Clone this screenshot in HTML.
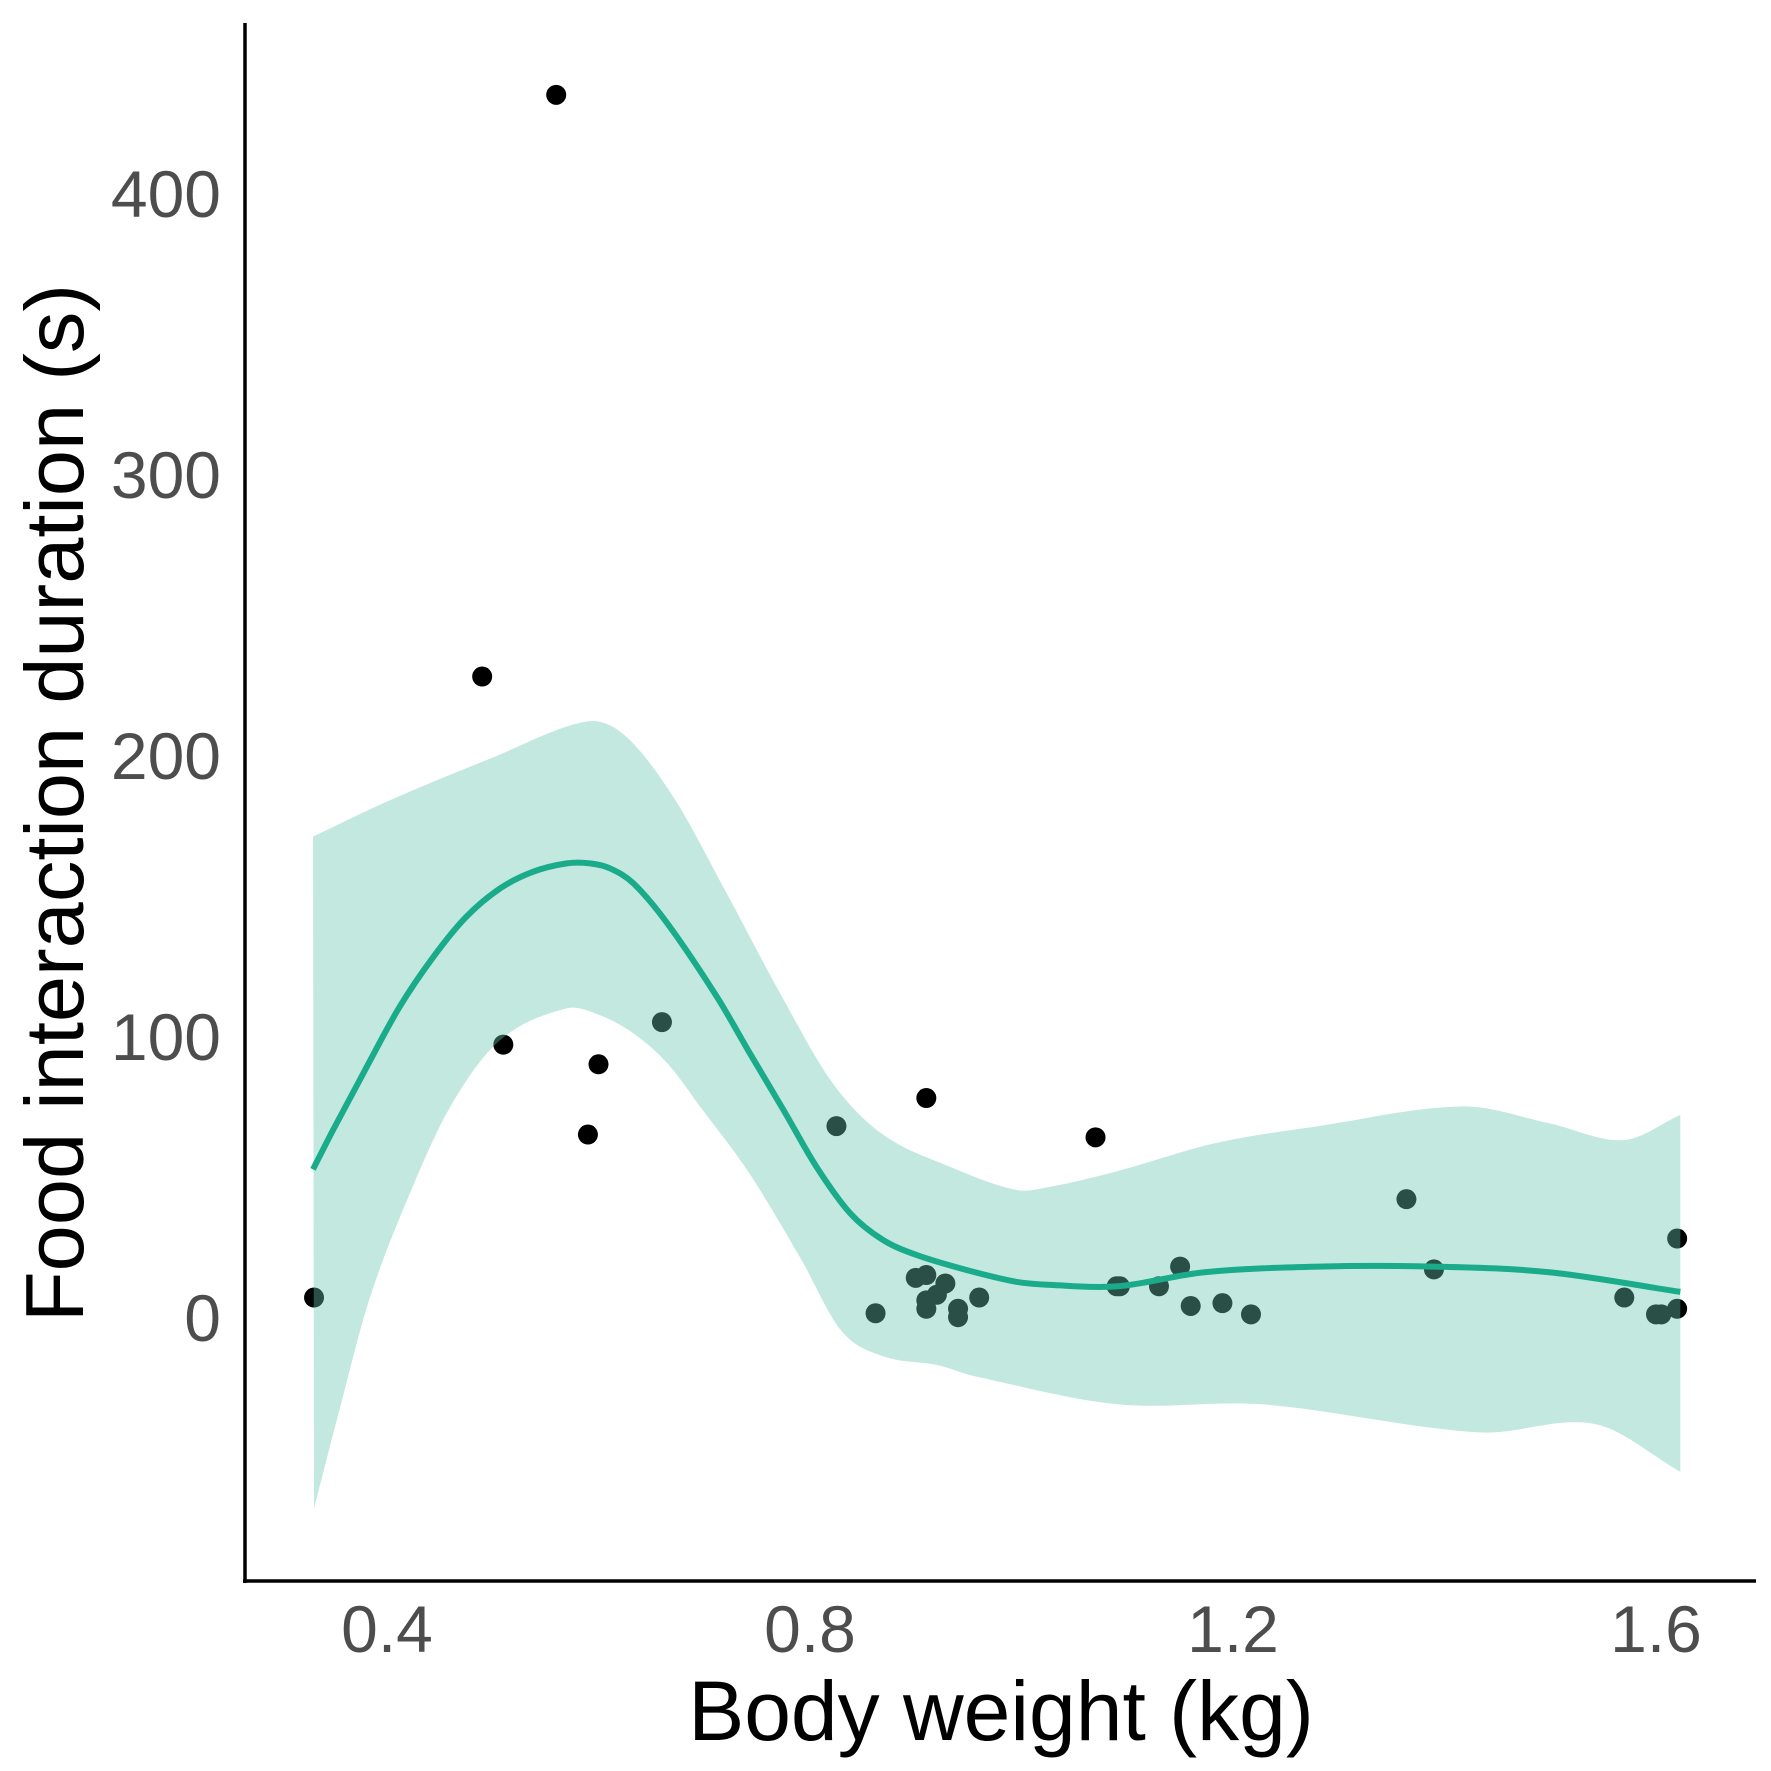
<!DOCTYPE html>
<html><head><meta charset="utf-8"><style>body{margin:0;background:#fff}svg{display:block}</style></head>
<body>
<svg id="chart" width="1771" height="1771" viewBox="0 0 1771 1771" xmlns="http://www.w3.org/2000/svg" font-family="'Liberation Sans', Arial, sans-serif">
<g id="points"></g>
<path id="ribbon" fill="#69c5b1" fill-opacity="0.4" stroke="none"/>
<path id="fit" fill="none" stroke="#1aab8a" stroke-width="6"/>
<line x1="245" y1="23" x2="245" y2="1583" stroke="#000" stroke-width="3.5"/>
<line x1="243" y1="1581" x2="1756" y2="1581" stroke="#000" stroke-width="3.5"/>
<g id="yticks"></g>
<g id="xticks"></g>
<text x="1001" y="1740" text-anchor="middle" font-size="84" fill="#000">Body weight (kg)</text>
<text transform="translate(83,803) rotate(-90)" text-anchor="middle" font-size="83" fill="#000">Food interaction duration (s)</text>
</svg>
<script>
const ptX=[0.331,0.56,0.49,0.51,0.60,0.59,0.66,0.825,0.91,1.07,0.862,0.90,0.91,0.91,0.91,0.92,0.928,0.94,0.94,0.96,1.09,1.093,1.13,1.15,1.16,1.19,1.217,1.364,1.39,1.57,1.60,1.605,1.62,1.62];
const ptY=[8,436,229,98,91,66,106,69,79,65,2.4,15,16,7,4,9,13,4,1,8,12,12,12,19,5,6,2,43,18,8,2,2,29,4];
const fitX=[0.330,0.349,0.381,0.412,0.444,0.475,0.507,0.538,0.570,0.592,0.611,0.633,0.665,0.712,0.743,0.775,0.806,0.838,0.869,0.901,0.948,0.995,1.027,1.091,1.173,1.281,1.39,1.499,1.623];
const fitY=[53.6,67.6,90.2,111.5,129.3,143.5,153.6,159.5,162.5,162.5,160.7,155.4,141.2,115,95,74.7,54.6,38,28.5,23.1,17.8,13.6,12.5,12,17,19,19,17,10];
const upX=[0.330,0.403,0.499,0.589,0.625,0.671,0.721,0.775,0.822,0.869,0.932,0.995,1.027,1.091,1.184,1.281,1.417,1.499,1.569,1.623];
const upY=[172,185,200,213,208,186,152,114,84,66,54.6,46.3,47.4,53,63,69,76,70,64,73];
const loX=[0.331,0.355,0.383,0.419,0.46,0.507,0.570,0.601,0.633,0.665,0.696,0.743,0.791,0.83,0.87,0.92,0.956,1.091,1.227,1.433,1.542,1.623];
const loY=[-67,-32,7,42.7,76,99.6,110.9,108.5,102,91.4,76,52,22,-4,-13,-16,-20,-30,-30,-40,-37,-54];
const yTicks=[0,100,200,300,400];
const xTicks=[0.4,0.8,1.2,1.6];
const NS='http://www.w3.org/2000/svg';
function sx(v){return 387+(v-0.4)/0.4*423;}
function sy(v){return 1320-v*2.81;}
const pg=document.getElementById('points');
for(let i=0;i<ptX.length;i++){
 const c=document.createElementNS(NS,'circle');
 c.setAttribute('cx',sx(ptX[i]));c.setAttribute('cy',sy(ptY[i]));c.setAttribute('r',10);c.setAttribute('fill','#000');
 
 
 pg.appendChild(c);
}
function pts(xs,ys){return xs.map((x,i)=>[sx(x),sy(ys[i])]);}
function smooth(p){const n=p.length,m=[];
 for(let i=0;i<n;i++){const a=p[Math.max(0,i-1)],b=p[Math.min(n-1,i+1)];m.push((b[1]-a[1])/(b[0]-a[0]));}
 let d='M'+p[0][0]+','+p[0][1];
 for(let i=0;i<n-1;i++){const h=p[i+1][0]-p[i][0];
  d+=' C'+(p[i][0]+h/3)+','+(p[i][1]+m[i]*h/3)+' '+(p[i+1][0]-h/3)+','+(p[i+1][1]-m[i+1]*h/3)+' '+p[i+1][0]+','+p[i+1][1];}
 return d;}
document.getElementById('fit').setAttribute('d',smooth(pts(fitX,fitY)));
const up=smooth(pts(upX,upY));
const lo=pts(loX,loY);
const loPath=smooth(lo);
// reverse lower path by building from reversed points with mirrored x order
function smoothRev(p){const n=p.length,m=[];
 for(let i=0;i<n;i++){const a=p[Math.max(0,i-1)],b=p[Math.min(n-1,i+1)];m.push((b[1]-a[1])/(b[0]-a[0]));}
 let d='';
 for(let i=n-1;i>0;i--){const h=p[i][0]-p[i-1][0];
  d+=' C'+(p[i][0]-h/3)+','+(p[i][1]-m[i]*h/3)+' '+(p[i-1][0]+h/3)+','+(p[i-1][1]+m[i-1]*h/3)+' '+p[i-1][0]+','+p[i-1][1];}
 return d;}
document.getElementById('ribbon').setAttribute('d',up+' L'+lo[lo.length-1][0]+','+lo[lo.length-1][1]+smoothRev(lo)+' Z');
const yt=document.getElementById('yticks');
yTicks.forEach(v=>{const t=document.createElementNS(NS,'text');
 t.setAttribute('x',221);t.setAttribute('y',sy(v)+21);t.setAttribute('text-anchor','end');t.setAttribute('font-size','66');t.setAttribute('fill','#4d4d4d');t.textContent=v;
 
 
 yt.appendChild(t);});
const xt=document.getElementById('xticks');
xTicks.forEach(v=>{const t=document.createElementNS(NS,'text');
 t.setAttribute('x',sx(v));t.setAttribute('y',1652);t.setAttribute('text-anchor','middle');t.setAttribute('font-size','66');t.setAttribute('fill','#4d4d4d');t.textContent=v.toFixed(1);
 
 
 xt.appendChild(t);});
</script>
</body></html>
